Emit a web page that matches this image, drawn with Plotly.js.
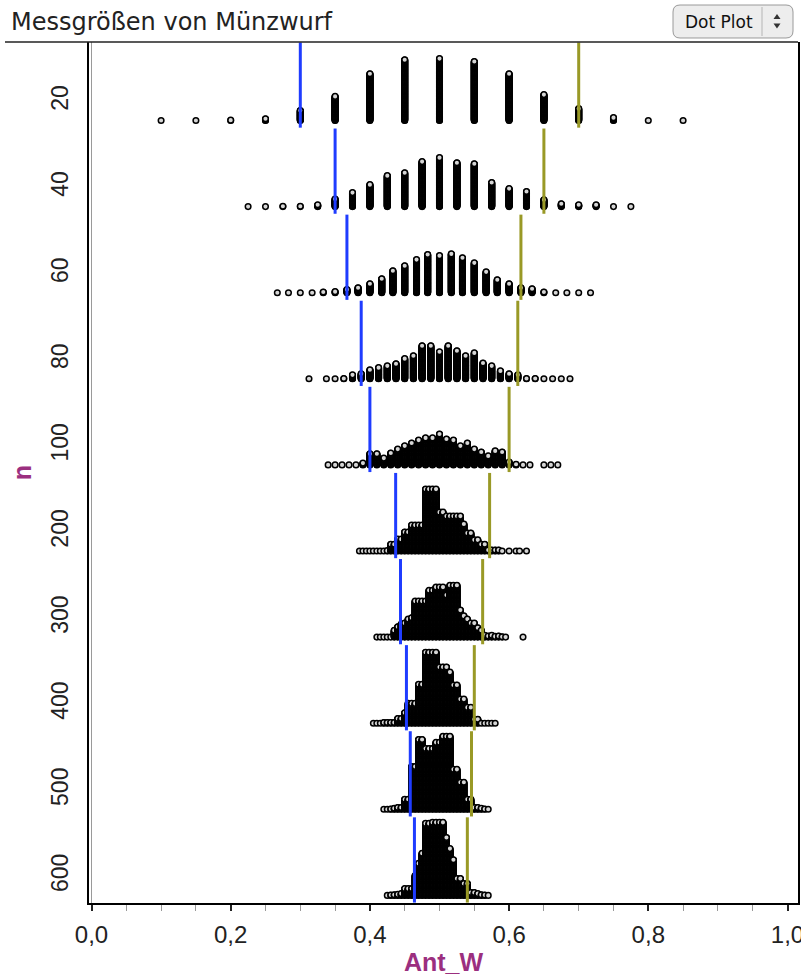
<!DOCTYPE html>
<html><head><meta charset="utf-8">
<script src="https://cdn.plot.ly/plotly-3.0.1.min.js"></script>
<style>html,body{margin:0;padding:0;background:#fff}#chart{width:801px;height:976px}</style>
</head><body><div id="chart"></div>
<script>
// ---- data ----
const categories = ['20','40','60','80','100','200','300','400','500','600'];
const lower5  = [0.300, 0.350, 0.367, 0.3875, 0.400, 0.437, 0.444, 0.4525, 0.458, 0.464];
const upper95 = [0.700, 0.650, 0.617, 0.6125, 0.600, 0.572, 0.562, 0.550, 0.546, 0.540];

const ant20 = [0.10,0.15,0.20,0.25,0.30,0.35,0.40,0.45,0.50,0.55,0.60,0.65,0.70,0.75,0.80,0.85];
const cnt20 = [1,1,2,6,29,68,131,170,173,165,131,73,34,9,1,1];

const ant40 = [0.225,0.25,0.275,0.30,0.325,0.35,0.375,0.40,0.425,0.45,0.475,0.50,0.525,0.55,0.575,0.60,0.625,0.65,0.675,0.70,0.725,0.75,0.775];
const cnt40 = [1,1,2,2,6,22,40,62,87,95,126,137,123,120,68,51,43,20,9,6,6,1,1];

const ant60 = [0.267,0.283,0.300,0.317,0.333,0.350,0.367,0.383,0.400,0.417,0.433,0.450,0.467,0.483,0.500,0.517,0.533,0.550,0.567,0.583,0.600,0.617,0.633,0.650,0.667,0.683,0.700,0.717];
const cnt60 = [1,1,1,1,3,4,10,15,26,40,62,76,93,107,104,109,98,84,59,37,26,15,12,3,1,1,1,1];

const ant80 = [0.3125,0.3375,0.35,0.3625,0.375,0.3875,0.40,0.4125,0.425,0.4375,0.45,0.4625,0.475,0.4875,0.50,0.5125,0.525,0.5375,0.55,0.5625,0.575,0.5875,0.60,0.6125,0.625,0.6375,0.65,0.6625,0.675,0.6875];
const cnt80 = [1,1,1,2,12,15,26,32,37,43,57,65,93,93,76,93,79,65,73,45,37,23,15,12,2,2,1,1,1,1];

const ant100 = [0.34,0.35,0.36,0.37,0.38,0.39,0.40,0.41,0.42,0.43,0.44,0.45,0.46,0.47,0.48,0.49,0.50,0.51,0.52,0.53,0.54,0.55,0.56,0.57,0.58,0.59,0.60,0.61,0.62,0.63,0.65,0.66,0.67];
const cnt100 = [1,1,1,1,1,6,32,32,20,34,45,54,62,70,76,76,87,73,70,54,62,45,37,26,40,37,9,3,1,1,1,1,1];

const ant200 = [0.385,0.390,0.395,0.400,0.405,0.410,0.415,0.420,0.425,0.430,0.435,0.440,0.445,0.450,0.455,0.460,0.465,0.470,0.475,0.480,0.485,0.490,0.495,0.500,0.505,0.510,0.515,0.520,0.525,0.530,0.535,0.540,0.545,0.550,0.555,0.560,0.565,0.570,0.575,0.580,0.585,0.590,0.600,0.610,0.615,0.625];
const cnt200 = [1,1,1,1,1,1,1,1,2,20,20,34,34,54,54,73,73,73,73,173,173,173,173,109,109,98,98,98,98,98,76,51,51,32,32,20,20,4,4,4,4,1,1,1,1,1];

const ant300 = [0.410,0.415,0.420,0.425,0.430,0.435,0.440,0.445,0.450,0.455,0.460,0.465,0.470,0.475,0.480,0.485,0.490,0.495,0.500,0.505,0.510,0.515,0.520,0.525,0.530,0.535,0.540,0.545,0.550,0.555,0.560,0.565,0.570,0.575,0.580,0.585,0.590,0.595,0.620];
const cnt300 = [1,1,1,1,1,20,30,37,40,51,55,101,101,101,101,131,131,140,140,140,118,145,145,145,76,60,51,40,40,27,20,6,4,6,3,4,2,1,1];

const ant400 = [0.405,0.410,0.415,0.420,0.425,0.430,0.435,0.440,0.445,0.450,0.455,0.460,0.465,0.470,0.475,0.480,0.485,0.490,0.495,0.500,0.505,0.510,0.515,0.520,0.525,0.530,0.535,0.540,0.545,0.550,0.555,0.560,0.565,0.570,0.575,0.580];
const cnt400 = [1,1,1,3,3,3,3,14,14,30,56,56,56,109,109,198,198,198,198,157,157,157,143,107,107,68,68,45,45,12,12,1,1,1,1,1];

const ant500 = [0.420,0.425,0.430,0.435,0.440,0.445,0.450,0.455,0.460,0.465,0.470,0.475,0.480,0.485,0.490,0.495,0.500,0.505,0.510,0.515,0.520,0.525,0.530,0.535,0.540,0.545,0.550,0.555,0.560,0.565,0.570];
const cnt500 = [1,1,2,4,6,6,29,29,120,120,195,195,170,170,170,187,187,204,204,204,112,112,76,76,29,29,6,6,4,2,1];

const ant600 = [0.425,0.430,0.435,0.440,0.445,0.450,0.455,0.460,0.465,0.470,0.475,0.480,0.485,0.490,0.495,0.500,0.505,0.510,0.515,0.520,0.525,0.530,0.535,0.540,0.545,0.550,0.555,0.560,0.565,0.570];
const cnt600 = [1,2,3,4,6,20,20,20,56,90,118,201,201,204,204,204,204,162,131,100,48,48,34,34,9,9,6,3,2,1];

const xTickVals = [0, 0.2, 0.4, 0.6, 0.8, 1.0];

// ---- layout geometry (style) ----
const L = 89, R = 798, T = 42, B = 903;
const pw = R - L, ph = B - T;
const rowPx = ph / categories.length;
const baseOff = 0.912;           // baseline of dots inside a row band
const dotStep = 0.36 / rowPx;    // stacking step per dot
const labelOff = 0.69;

const rows = [[ant20,cnt20],[ant40,cnt40],[ant60,cnt60],[ant80,cnt80],[ant100,cnt100],
              [ant200,cnt200],[ant300,cnt300],[ant400,cnt400],[ant500,cnt500],[ant600,cnt600]];

const dx = [], dy = [];
rows.forEach(([vals, cnts], i) => {
  vals.forEach((v, j) => {
    for (let k = 0; k < cnts[j]; k++) { dx.push(v); dy.push(i + baseOff - k * dotStep); }
  });
});

const lx = [], ly = [], ux = [], uy = [];
categories.forEach((c, i) => {
  lx.push(lower5[i], lower5[i], null); ly.push(i + 0.005, i + 0.995, null);
  ux.push(upper95[i], upper95[i], null); uy.push(i + 0.005, i + 0.995, null);
});

const xp = px => (px - L) / pw;
const yp = py => (B - py) / ph;
function rrect(x0, y0, x1, y1, r) {
  const P = (x, y) => xp(x).toFixed(5) + ',' + yp(y).toFixed(5);
  return 'M' + P(x0 + r, y0) + ' L' + P(x1 - r, y0) + ' Q' + P(x1, y0) + ' ' + P(x1, y0 + r) +
         ' L' + P(x1, y1 - r) + ' Q' + P(x1, y1) + ' ' + P(x1 - r, y1) +
         ' L' + P(x0 + r, y1) + ' Q' + P(x0, y1) + ' ' + P(x0, y1 - r) +
         ' L' + P(x0, y0 + r) + ' Q' + P(x0, y0) + ' ' + P(x0 + r, y0) + ' Z';
}
function tri(cx, cy, w, h, up) {
  const P = (x, y) => xp(x).toFixed(5) + ',' + yp(y).toFixed(5);
  return up ? 'M' + P(cx - w/2, cy + h/2) + ' L' + P(cx + w/2, cy + h/2) + ' L' + P(cx, cy - h/2) + ' Z'
            : 'M' + P(cx - w/2, cy - h/2) + ' L' + P(cx + w/2, cy - h/2) + ' L' + P(cx, cy + h/2) + ' Z';
}

const purple = '#9b2f7f';
const traces = [
  { type: 'scatter', mode: 'markers', x: dx, y: dy, hoverinfo: 'skip',
    marker: { symbol: 'circle', size: 5.6, color: '#d6d6d6', line: { color: '#000', width: 1.5 } } },
  { type: 'scatter', mode: 'lines', x: lx, y: ly, hoverinfo: 'skip', line: { color: '#1f3cff', width: 3 } },
  { type: 'scatter', mode: 'lines', x: ux, y: uy, hoverinfo: 'skip', line: { color: '#999926', width: 3 } }
];

const layout = {
  width: 801, height: 976,
  margin: { l: L, r: 801 - R, t: T, b: 976 - B, pad: 0 },
  paper_bgcolor: '#fff', plot_bgcolor: '#fff',
  showlegend: false,
  separators: ',.',
  title: { text: 'Messgrößen von Münzwurf', xref: 'container', yref: 'container',
           x: 11 / 801, xanchor: 'left', y: 1 - 22 / 976, yanchor: 'middle',
           font: { family: 'DejaVu Sans, sans-serif', size: 24, color: '#222' } },
  xaxis: {
    range: [(L - 91.5) / 696, (R - 91.5) / 696],
    showgrid: false, zeroline: true, zerolinecolor: '#9a9a9a', zerolinewidth: 1.5,
    showline: true, linecolor: '#000', linewidth: 2,
    tickmode: 'array', tickvals: xTickVals, tickformat: '.1f',
    ticks: 'outside', ticklen: 6, tickwidth: 2, tickcolor: '#222',
    ticklabelstandoff: 3, ticklabeloverflow: 'allow',
    minor: { dtick: 0.05, tick0: 0, ticks: 'outside', ticklen: 6, tickwidth: 1, tickcolor: '#999' },
    tickfont: { family: 'Liberation Sans, Arial, sans-serif', size: 24, color: '#222' },
    title: { text: 'Ant_W', standoff: 10,
             font: { family: 'Liberation Sans, Arial, sans-serif', size: 25, color: purple, weight: 'bold' } },
    fixedrange: true
  },
  yaxis: {
    range: [categories.length, 0],
    showgrid: false, zeroline: false,
    showline: true, linecolor: '#000', linewidth: 2, mirror: true,
    tickmode: 'array', tickvals: categories.map((c, i) => i + labelOff), ticktext: categories,
    ticks: '', tickangle: -90, ticklabelstandoff: 10,
    tickfont: { family: 'Liberation Sans, Arial, sans-serif', size: 23, color: '#222' },
    title: { text: 'n', standoff: 8,
             font: { family: 'Liberation Sans, Arial, sans-serif', size: 25, color: purple, weight: 'bold' } },
    fixedrange: true
  },
  shapes: [
    { type: 'line', xref: 'paper', yref: 'paper', x0: xp(5), x1: 1, y0: 1, y1: 1, line: { color: '#222', width: 1.5 } },
    { type: 'path', xref: 'paper', yref: 'paper', path: rrect(673, 5, 793, 38, 7),
      fillcolor: '#ededed', line: { color: '#9a9a9a', width: 1 } },
    { type: 'line', xref: 'paper', yref: 'paper', x0: xp(762), x1: xp(762), y0: yp(7), y1: yp(36), line: { color: '#b5b5b5', width: 1 } },
    { type: 'path', xref: 'paper', yref: 'paper', path: tri(777, 16.5, 7, 5, true), fillcolor: '#333', line: { width: 0 } },
    { type: 'path', xref: 'paper', yref: 'paper', path: tri(777, 26, 7, 5, false), fillcolor: '#333', line: { width: 0 } }
  ],
  annotations: [
    { text: 'Dot Plot', xref: 'paper', yref: 'paper', x: xp(683), y: yp(22), xanchor: 'left', yanchor: 'middle',
      showarrow: false, font: { family: 'DejaVu Sans, sans-serif', size: 17, color: '#111' } }
  ]
};

Plotly.newPlot('chart', traces, layout, { displayModeBar: false, staticPlot: true });
</script>
</body></html>
